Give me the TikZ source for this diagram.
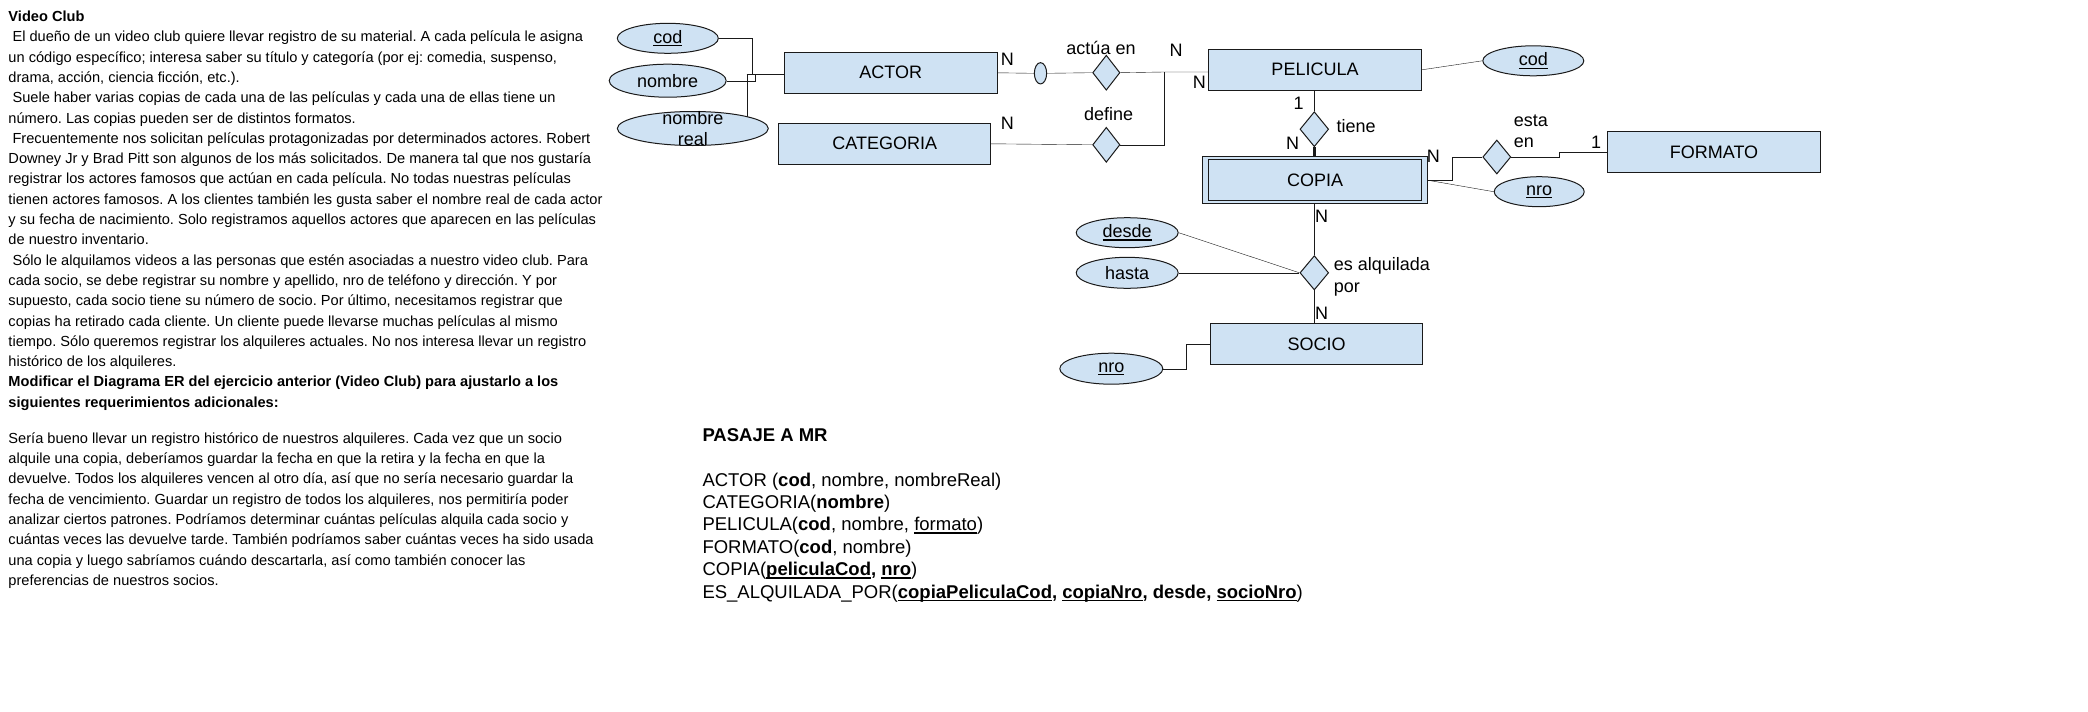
\documentclass[tikz,border=0pt]{standalone}
\usepackage{fontspec}
\setmainfont{Liberation Sans}
\usetikzlibrary{shapes.geometric,backgrounds}
\frenchspacing

\definecolor{erfill}{HTML}{CFE2F3}
\definecolor{erline}{HTML}{1A1A1A}
\newcommand{\erfont}{\fontsize{18}{21.7}\selectfont}
\newcommand{\txtfont}{\fontsize{14.6}{20.3}\selectfont}
\newcommand{\mrfont}{\fontsize{18.5}{22.4}\selectfont}
\newcommand{\subr}[1]{\setbox0\hbox{#1}\rlap{\rule[-0.16em]{\wd0}{0.07em}}\box0}

\begin{document}
\begin{tikzpicture}[x=1pt,y=-1pt,line width=1pt,
  entidad/.style={draw=erline,fill=erfill,minimum width=213pt,minimum height=41pt,inner sep=0pt,font=\erfont},
  atributo/.style={ellipse,draw=erline,fill=erfill,inner sep=0pt,font=\erfont},
  relacion/.style={diamond,draw=erline,fill=erfill,inner sep=0pt,minimum width=28pt,minimum height=35pt},
  etiq/.style={inner sep=0pt,font=\erfont}]
\useasboundingbox (0,0) rectangle (2088,712);

\node[anchor=north west,inner sep=0pt,align=left,font=\txtfont] (enunciado) at (8,10.5) {%
\textbf{Video Club}\\
\ El dueño de un video club quiere llevar registro de su material. A cada película le asigna\\
un código específico; interesa saber su título y categoría (por ej: comedia, suspenso,\\
drama, acción, ciencia ficción, etc.).\\
\ Suele haber varias copias de cada una de las películas y cada una de ellas tiene un\\
número. Las copias pueden ser de distintos formatos.\\
\ Frecuentemente nos solicitan películas protagonizadas por determinados actores. Robert\\
Downey Jr y Brad Pitt son algunos de los más solicitados. De manera tal que nos gustaría\\
registrar los actores famosos que actúan en cada película. No todas nuestras películas\\
tienen actores famosos. A los clientes también les gusta saber el nombre real de cada actor\\
y su fecha de nacimiento. Solo registramos aquellos actores que aparecen en las películas\\
de nuestro inventario.\\
\ Sólo le alquilamos videos a las personas que estén asociadas a nuestro video club. Para\\
cada socio, se debe registrar su nombre y apellido, nro de teléfono y dirección. Y por\\
supuesto, cada socio tiene su número de socio. Por último, necesitamos registrar que\\
copias ha retirado cada cliente. Un cliente puede llevarse muchas películas al mismo\\
tiempo. Sólo queremos registrar los alquileres actuales. No nos interesa llevar un registro\\
histórico de los alquileres.\\
\textbf{Modificar el Diagrama ER del ejercicio anterior (Video Club) para ajustarlo a los}\\
\textbf{siguientes requerimientos adicionales:}\\[15.7pt]
Sería bueno llevar un registro histórico de nuestros alquileres. Cada vez que un socio\\
alquile una copia, deberíamos guardar la fecha en que la retira y la fecha en que la\\
devuelve. Todos los alquileres vencen al otro día, así que no sería necesario guardar la\\
fecha de vencimiento. Guardar un registro de todos los alquileres, nos permitiría poder\\
analizar ciertos patrones. Podríamos determinar cuántas películas alquila cada socio y\\
cuántas veces las devuelve tarde. También podríamos saber cuántas veces ha sido usada\\
una copia y luego sabríamos cuándo descartarla, así como también conocer las\\
preferencias de nuestros socios.};

\node[anchor=north west,inner sep=0pt,align=left,font=\mrfont] (pasaje) at (702,427.8) {%
\textbf{PASAJE A MR}\\[22.4pt]
ACTOR (\textbf{cod}, nombre, nombreReal)\\
CATEGORIA(\textbf{nombre})\\
PELICULA(\textbf{cod}, nombre, \subr{formato})\\
FORMATO(\textbf{cod}, nombre)\\
COPIA(\textbf{\subr{peliculaCod}, \subr{nro}})\\
ES\_ALQUILADA\_POR(\textbf{\subr{copiaPeliculaCod}, \subr{copiaNro}, desde, \subr{socioNro}})};

\node[entidad] (actor) at (890.8,72.8) {ACTOR};
\node[entidad,minimum width=212pt] (categoria) at (884.7,143.8) {CATEGORIA};
\node[entidad] (pelicula) at (1315,69.8) {PELICULA};
\node[entidad,minimum width=225.4pt,minimum height=47.3pt] (copiaOut) at (1315,180.3) {};
\node[entidad] (copia) at (1315,180.3) {COPIA};
\node[entidad] (formato) at (1714,152) {FORMATO};
\node[entidad,minimum width=212pt] (socio) at (1316.5,343.8) {SOCIO};

\node[atributo,minimum width=101pt,minimum height=30pt] (codA) at (667.8,38.3) {\subr{cod}};
\node[atributo,minimum width=117pt,minimum height=33pt] (nombreA) at (667.7,80.7) {nombre};
\node[atributo,minimum width=151pt,minimum height=34pt] (nombreRealA) at (692.8,128.5) {};
\node[etiq,align=center] (nombreRealT) at (nombreRealA) {nombre\\real};
\node[atributo,minimum width=101pt,minimum height=30pt] (codP) at (1533.3,60.8) {\subr{cod}};
\node[atributo,minimum width=90pt,minimum height=30pt] (nroC) at (1539.2,191.7) {\subr{nro}};
\node[atributo,minimum width=102pt,minimum height=30pt] (desde) at (1127.2,232.7) {\subr{desde}};
\node[atributo,minimum width=102pt,minimum height=31pt] (hasta) at (1127.2,272.8) {hasta};
\node[atributo,minimum width=103pt,minimum height=31pt] (nroS) at (1111.3,368.7) {\subr{nro}};
\node[atributo,minimum width=12.3pt,minimum height=21.3pt] (partic) at (1040.5,73.3) {};

\node[relacion,minimum width=27.3pt] (actua) at (1106.3,72.7) {};
\node[relacion,minimum width=27.3pt] (define) at (1106.3,144.8) {};
\node[relacion,minimum width=28.7pt] (tiene) at (1314.3,129.2) {};
\node[relacion,minimum height=34pt] (estaEn) at (1496.8,157) {};
\node[relacion,minimum width=28.7pt,minimum height=34.3pt] (alquila) at (1314.3,272.8) {};

\node[etiq] (lblActua) at (1101,48) {actúa en};
\node[etiq] (lblDefine) at (1108.7,114.3) {define};
\node[etiq] (lblTiene) at (1356,126) {tiene};
\node[etiq,align=left,anchor=west] (lblEsta) at (1513.3,131.3) {esta\\en};
\node[etiq,align=left,anchor=west] (lblAlquila) at (1333.3,276.8) {es alquilada\\por};
\node[etiq] (cActor) at (1007.3,59.3) {N};
\node[etiq] (cCateg) at (1007.3,123.3) {N};
\node[etiq] (cPelA) at (1176,50.7) {N};
\node[etiq] (cPelB) at (1199.3,82.7) {N};
\node[etiq] (cPelT) at (1298.7,103.3) {1};
\node[etiq] (cCopT) at (1292.7,143.3) {N};
\node[etiq] (cCopE) at (1433.3,156.7) {N};
\node[etiq] (cForm) at (1596,142) {1};
\node[etiq] (cCopA) at (1321.7,216.7) {N};
\node[etiq] (cSocio) at (1321.7,313.3) {N};

\coordinate (jCod) at (751.7,74);
\coordinate (jNom) at (755.3,74);
\coordinate (jL) at (746.7,74);
\coordinate (jP) at (1164.3,72);
\coordinate (jE) at (1452.3,157);
\coordinate (jF) at (1559.3,152);
\coordinate (jS) at (1186,343.8);

\begin{scope}[on background layer]
\draw[erline] (codA.east) -| (jCod);
\draw[erline] (nombreA.east) -| (jNom);
\draw[erline] (jL) -- (jL |- nombreRealA.center);
\draw[erline] (jL) -- (jL -| actor.west);
\draw[erline] (actor.east) -- (partic.west);
\draw[erline] (partic.east) -- (actua.west);
\draw[erline] (actua.east) -- (jP) -- (jP -| pelicula.west);
\draw[erline] (categoria.east) -- (define.west);
\draw[erline] (define.east) -| (jP);
\draw[erline] (pelicula.east) -- (codP.west);
\draw[erline] (pelicula.south -| tiene) -- (tiene.north);
\draw[erline,line width=3.5pt] (tiene.south) -- (tiene.south |- copiaOut.north);
\draw[erline] (copiaOut.east) -| (jE) -- (estaEn.west);
\draw[erline] (estaEn.east) -| (jF) -- (formato.west);
\draw[erline] (copiaOut.east) -- (nroC.west);
\draw[erline] (copiaOut.south -| alquila) -- (alquila.north);
\draw[erline] (alquila.south) -- (alquila.south |- socio.north);
\draw[erline] (desde.east) -- (alquila.west);
\draw[erline] (hasta.east) -- (alquila.west);
\draw[erline] (nroS.east) -| (jS) -- (socio.west);
\end{scope}
\end{tikzpicture}
\end{document}
